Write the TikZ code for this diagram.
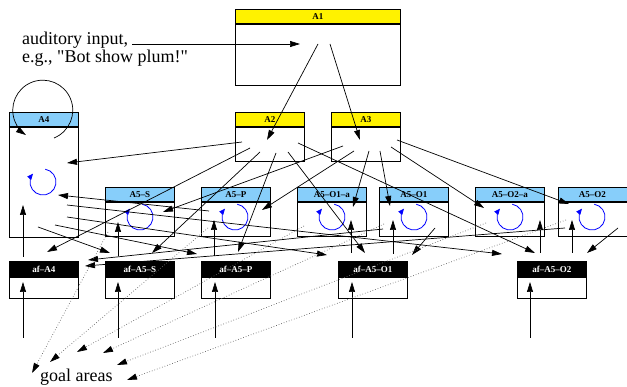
\documentclass[tikz,border=0pt]{standalone}
\usepackage{fontspec}
\setmainfont{Liberation Serif}
\newfontfamily\notefont{Liberation Serif}[Ligatures=TeXOff]
\usetikzlibrary{arrows.meta,positioning}
\definecolor{skyhead}{RGB}{135,206,250}
\tikzset{
  head/.style={draw, line width=0.9pt, minimum height=14, inner sep=0pt,
    anchor=north west, font=\fontsize{9}{9}\selectfont\bfseries},
  yellowhead/.style={head, fill=yellow, minimum width=69},
  bluehead/.style={head, fill=skyhead, minimum width=69},
  blackhead/.style={head, fill=black, text=white, minimum width=69, minimum height=15},
  body/.style={draw, line width=0.9pt, minimum width=69, inner sep=0pt},
  link/.style={-{Triangle[length=10pt,width=6pt]}, line width=0.7pt},
  goal/.style={-{Triangle[length=10pt,width=6pt,black]}, dotted, line width=0.7pt, draw=black!60},
  spin/.style={-{Triangle[length=6pt,width=5pt]}, line width=0.8pt, draw=blue, fill=none},
  note/.style={font=\notefont\fontsize{18}{18}\selectfont, inner sep=0pt, anchor=base west}
}
\begin{document}
\begin{tikzpicture}[x=1pt, y=-1pt]
  \useasboundingbox (0,0) rectangle (627,387);

  % Texts
  \node (input1) at (22,45) [note] {auditory input,};
  \node (input2) at (22,63) [note] {e.g., "Bot show plum!"};
  \node (goals)  at (40,382) [note] {goal areas};

  % Boxes
  \node (A1h) at (235,9) [yellowhead, minimum width=165] {A1};
  \node (A1)  [body, below=0pt of A1h, minimum width=165, minimum height=61] {};
  \node (A2h) at (235,112) [yellowhead] {A2};
  \node (A2)  [body, below=0pt of A2h, minimum height=34] {};
  \node (A3h) at (331,112) [yellowhead] {A3};
  \node (A3)  [body, below=0pt of A3h, minimum height=34] {};
  \node (A4h) at (9,112) [bluehead] {A4};
  \node (A4)  [body, below=0pt of A4h, minimum height=110] {};

  \node (A5Sh)  at (105,187) [bluehead] {A5--S};
  \node (A5S)   [body, below=0pt of A5Sh, minimum height=34] {};
  \node (A5Ph)  at (201,187) [bluehead] {A5--P};
  \node (A5P)   [body, below=0pt of A5Ph, minimum height=34] {};
  \node (A5O1ah) at (297,187) [bluehead] {A5--O1--a};
  \node (A5O1a)  [body, below=0pt of A5O1ah, minimum height=34] {};
  \node (A5O1h) at (379,187) [bluehead] {A5--O1};
  \node (A5O1)  [body, below=0pt of A5O1h, minimum height=34] {};
  \node (A5O2ah) at (475,187) [bluehead] {A5--O2--a};
  \node (A5O2a)  [body, below=0pt of A5O2ah, minimum height=34] {};
  \node (A5O2h) at (557.5,187) [bluehead] {A5--O2};
  \node (A5O2)  [body, below=0pt of A5O2h, minimum height=34] {};

  \node (afA4h)   at (9,261) [blackhead] {af--A4};
  \node (afA4)    [body, below=0pt of afA4h, minimum height=21] {};
  \node (afA5Sh)  at (105,261) [blackhead] {af--A5--S};
  \node (afA5S)   [body, below=0pt of afA5Sh, minimum height=21] {};
  \node (afA5Ph)  at (201,261) [blackhead] {af--A5--P};
  \node (afA5P)   [body, below=0pt of afA5Ph, minimum height=21] {};
  \node (afA5O1h) at (338,261) [blackhead] {af--A5--O1};
  \node (afA5O1)  [body, below=0pt of afA5O1h, minimum height=21] {};
  \node (afA5O2h) at (517,261) [blackhead] {af--A5--O2};
  \node (afA5O2)  [body, below=0pt of afA5O2h, minimum height=21] {};

  % Connector ends
  \coordinate (in)    at (132,44);
  \coordinate (A1-0)  at (300,44);
  \coordinate (A1-1)  at (318,44);
  \coordinate (A1-2)  at (330,44);
  \coordinate (A2-0)  at (267,140);
  \coordinate (A2-1)  at (242,142);
  \coordinate (A2-2)  at (250,148);
  \coordinate (A2-3)  at (260,152);
  \coordinate (A2-4)  at (276,153);
  \coordinate (A2-5)  at (288,152);
  \coordinate (A2-6)  at (298,143);
  \coordinate (A3-0)  at (360,140);
  \coordinate (A3-1)  at (343,146);
  \coordinate (A3-2)  at (354,151);
  \coordinate (A3-3)  at (369,151);
  \coordinate (A3-4)  at (380,151);
  \coordinate (A3-5)  at (391,147);
  \coordinate (A3-6)  at (397,140);
  \coordinate (A4-0)  at (67,163);
  \coordinate (A4-1)  at (58,195);
  \coordinate (A4-2)  at (67,205);
  \coordinate (A4-3)  at (67,217);
  \coordinate (A4-4)  at (55,225);
  \coordinate (A4-5)  at (38,227);
  \coordinate (A4-6)  at (23,205);
  \coordinate (A4-7)  at (54,138);
  \coordinate (A5S-0) at (163,212);
  \coordinate (A5S-1) at (118,222);
  \coordinate (A5S-2) at (108,232);
  \coordinate (A5P-0) at (262,210);
  \coordinate (A5P-1) at (214,220);
  \coordinate (A5P-2) at (209,211);
  \coordinate (A5P-3) at (208,228);
  \coordinate (A5O1a-0) at (353,207);
  \coordinate (A5O1a-1) at (351,220);
  \coordinate (A5O1a-2) at (304,226);
  \coordinate (A5O1-0) at (390,206);
  \coordinate (A5O1-1) at (393,220);
  \coordinate (A5O1-2) at (383,229);
  \coordinate (A5O1-3) at (435,228);
  \coordinate (A5O1-4) at (384,224);
  \coordinate (A5O2a-0) at (484,208);
  \coordinate (A5O2a-1) at (540,220);
  \coordinate (A5O2a-2) at (486,223);
  \coordinate (A5O2-0) at (569,204);
  \coordinate (A5O2-1) at (572,220);
  \coordinate (A5O2-2) at (565,228);
  \coordinate (A5O2-3) at (618,228);
  \coordinate (A5O2-4) at (566,220);
  \coordinate (afA4-0) at (47,252);
  \coordinate (afA4-1) at (88,260);
  \coordinate (afA4-2) at (85,266);
  \coordinate (afA4-3) at (23,257);
  \coordinate (afA4-4) at (23,282);
  \coordinate (afA4-5) at (23,338);
  \coordinate (afA5S-0) at (152,253);
  \coordinate (afA5S-1) at (110,253);
  \coordinate (afA5S-2) at (118,256);
  \coordinate (afA5S-3) at (118,282);
  \coordinate (afA5S-4) at (118,338);
  \coordinate (afA5P-0) at (238,252);
  \coordinate (afA5P-1) at (197,254);
  \coordinate (afA5P-2) at (214,256);
  \coordinate (afA5P-3) at (215,282);
  \coordinate (afA5P-4) at (215,338);
  \coordinate (afA5O1-0) at (365,253);
  \coordinate (afA5O1-1) at (327,255);
  \coordinate (afA5O1-2) at (412,255);
  \coordinate (afA5O1-3) at (351,253);
  \coordinate (afA5O1-4) at (393,254);
  \coordinate (afA5O1-5) at (352,282);
  \coordinate (afA5O1-6) at (352,338);
  \coordinate (afA5O2-0) at (535,253);
  \coordinate (afA5O2-1) at (502,254);
  \coordinate (afA5O2-2) at (587,253);
  \coordinate (afA5O2-3) at (540,253);
  \coordinate (afA5O2-4) at (572,253);
  \coordinate (afA5O2-5) at (530,282);
  \coordinate (afA5O2-6) at (530,338);
  \coordinate (goal-1) at (32,373);
  \coordinate (goal-2) at (50,362);
  \coordinate (goal-3) at (77,352);
  \coordinate (goal-4) at (103,353);
  \coordinate (goal-5) at (117,365);
  \coordinate (goal-6) at (127,380);

  % Self loops
  \draw[link] (A4-7) arc[start angle=68, end angle=-236, radius=30];
  \draw[spin] (43,182) ++(-80:13) arc[start angle=-80, end angle=220, radius=13];
  \draw[spin] (140,217) ++(-80:13) arc[start angle=-80, end angle=220, radius=13];
  \draw[spin] (235,217) ++(-80:13) arc[start angle=-80, end angle=220, radius=13];
  \draw[spin] (332,217) ++(-80:13) arc[start angle=-80, end angle=220, radius=13];
  \draw[spin] (414,217) ++(-80:13) arc[start angle=-80, end angle=220, radius=13];
  \draw[spin] (510,217) ++(-80:13) arc[start angle=-80, end angle=220, radius=13];
  \draw[spin] (592,217) ++(-80:13) arc[start angle=-80, end angle=220, radius=13];

  % Edges
  \draw[link] (in) -- (A1-0);
  \draw[link] (A1-1) -- (A2-0);
  \draw[link] (A1-2) -- (A3-0);

  \draw[link] (A2-1) -- (A4-0);
  \draw[link] (A2-2) -- (afA4-0);
  \draw[link] (A2-3) -- (afA5S-0);
  \draw[link] (A2-4) -- (afA5P-0);
  \draw[link] (A2-5) -- (afA5O1-0);
  \draw[link] (A2-6) -- (afA5O2-0);

  \draw[link] (A3-1) -- (A5S-0);
  \draw[link] (A3-2) -- (A5P-0);
  \draw[link] (A3-3) -- (A5O1a-0);
  \draw[link] (A3-4) -- (A5O1-0);
  \draw[link] (A3-5) -- (A5O2a-0);
  \draw[link] (A3-6) -- (A5O2-0);

  \draw[link] (A4-2) -- (afA5O2-1);
  \draw[link] (A4-3) -- (afA5O1-1);
  \draw[link] (A4-4) -- (afA5P-1);
  \draw[link] (A4-5) -- (afA5S-1);
  \draw[link] (A5P-2) -- (A4-1);
  \draw[link] (A5O1-2) -- (afA4-1);
  \draw[link] (A5O2-2) -- (afA4-2);
  \draw[link] (A5O1-3) -- (afA5O1-2);
  \draw[link] (A5O2-3) -- (afA5O2-2);

  \draw[link] (afA4-3) -- (A4-6);
  \draw[link] (afA5S-2) -- (A5S-1);
  \draw[link] (afA5P-2) -- (A5P-1);
  \draw[link] (afA5O1-3) -- (A5O1a-1);
  \draw[link] (afA5O1-4) -- (A5O1-1);
  \draw[link] (afA5O2-3) -- (A5O2a-1);
  \draw[link] (afA5O2-4) -- (A5O2-1);

  \draw[link] (afA4-5) -- (afA4-4);
  \draw[link] (afA5S-4) -- (afA5S-3);
  \draw[link] (afA5P-4) -- (afA5P-3);
  \draw[link] (afA5O1-6) -- (afA5O1-5);
  \draw[link] (afA5O2-6) -- (afA5O2-5);

  % Goal areas
  \draw[goal] (A5S-2) -- (goal-1);
  \draw[goal] (A5P-3) -- (goal-2);
  \draw[goal] (A5O1a-2) -- (goal-3);
  \draw[goal] (A5O1-4) -- (goal-4);
  \draw[goal] (A5O2a-2) -- (goal-5);
  \draw[goal] (A5O2-4) -- (goal-6);
\end{tikzpicture}
\end{document}
